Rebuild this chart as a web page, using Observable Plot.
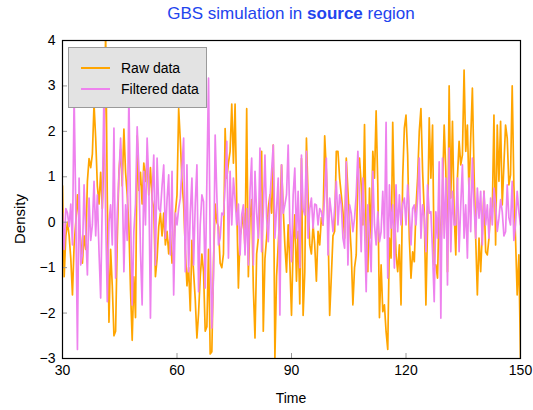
<!DOCTYPE html>
<html>
<head>
<meta charset="utf-8">
<script src="https://cdn.jsdelivr.net/npm/d3@7"></script>
<script src="https://cdn.jsdelivr.net/npm/@observablehq/plot@0.6"></script>
<style>
  html, body { margin: 0; padding: 0; background: #fff; }
  #wrap { position: relative; width: 533px; height: 410px; font-family: "Liberation Sans", Arial, Helvetica, sans-serif; }
  #title { position: absolute; left: 62px; top: 4px; width: 458px; text-align: center; font-size: 17px; line-height: 19px; color: #2244ee; white-space: nowrap; }
  #ylab { position: absolute; left: 19px; top: 219px; transform: translate(-50%, -50%) rotate(-90deg); font-size: 15px; white-space: nowrap; }
  #xlab { position: absolute; left: 291px; top: 398px; transform: translate(-50%, -50%); font-size: 14px; white-space: nowrap; }
  #legend { position: absolute; left: 68px; top: 47px; width: 137px; height: 59px; background: #e3e3e3; border: 1px solid #9a9a9a; }
  .lg-line { position: absolute; left: 12px; width: 29px; height: 2px; }
  .lg-text { position: absolute; left: 52px; font-size: 14px; line-height: 16px; white-space: nowrap; }
</style>
</head>
<body>
<div id="wrap">
  <div id="chart"></div>
  <div id="title">GBS simulation in <b>source</b> region</div>
  <div id="ylab">Density</div>
  <div id="xlab">Time</div>
  <div id="legend">
    <div class="lg-line" style="top:19px;background:orange"></div>
    <div class="lg-text" style="top:12px">Raw data</div>
    <div class="lg-line" style="top:40px;background:violet"></div>
    <div class="lg-text" style="top:33px">Filtered data</div>
  </div>
</div>
<script>
const timeStart = 30;
const timeEnd = 150;
const xTicks = [30, 60, 90, 120, 150];
const yTicks = [-3, -2, -1, 0, 1, 2, 3, 4];

const raw = [
  0.8,-1.2,-0.3,0.0,-0.3,-0.8,-1.6,-0.5,0.0,0.6, 0.0,-0.4,-0.9,-0.3,-0.6,0.9,1.4,1.2,1.5,2.6,
  1.85,0.8,0.4,1.1,0.3,1.5,4.2,0.5,-2.2,-0.6, -1.4,-2.5,-2.4,-0.4,1.1,1.6,0.8,2.05,1.1,0.6,
  -0.1,-1.5,-2.6,-1.2,-2.1,
  1.9,0.7,1.1,0.4,1.3,0.9,1.4,0.6,1.2,0.5, 0.3,-1.2,-0.8,-0.1,0.2,-0.3,0.2,-0.5,-0.2,-0.7,
  -0.2,-0.9,-0.6,0.2,0.6,2.5,1.8,0.9,0.4,-0.6, -1.4,-1.0,-1.95,-0.4,-1.1,-1.7,-2.55,-2.0,-1.2,-0.7,
  -1.1,-2.4,-2.3,-0.6,-2.9,
  -2.85,-0.9,0.4,0.0,-0.1,-0.9,-1.0,-0.7,2.06,0.97, 1.3,1.56,2.6,1.3,2.6,0.4,-1.45,-0.3,-0.1,0.2,
  -0.6,2.5,-1.2,0.1,0.5,-1.45,-2.55,-0.7,-0.35,0.5, 1.56,-2.4,-0.8,-0.35,0.3,0.6,0.2,1.7,-3.0,-1.2,
  -0.5,0.2,1.26,0.3,-0.5,
  -1.1,-0.06,-0.9,-2.05,-0.5,0.16,-1.3,-0.2,-1.8,1.4, -2.05,-1.1,1.85,0.53,-0.5,-0.7,-0.06,-0.5,-1.3,-0.2,
  -0.5,0.1,-0.06,1.9,1.12,-0.06,-2.05,-1.2,-0.3,-0.2, 1.56,1.56,0.97,0.6,0.23,-0.35,1.41,0.68,0.0,-0.65,
  -1.82,-1.0,-0.72,1.12,1.41,
  0.82,-0.06,2.15,-0.35,-1.09,0.75,-0.35,1.56,0.97,2.45, 0.82,-2.1,-0.94,-1.97,-1.82,-2.41,-2.8,-0.35,-0.79,2.2,
  0.38,-0.72,-1.09,-0.5,-1.82,0.97,2.07,2.36,1.48,-0.35, -1.23,-0.65,-0.87,0.3,0.97,2.0,2.5,1.12,0.23,-1.82,
  -0.06,2.3,0.97,2.14,-0.94,
  -0.94,-1.23,0.38,-0.65,0.68,2.14,1.12,-1.09,3.0,0.53, 2.22,0.23,-0.72,0.97,1.78,1.26,1.48,3.35,1.56,2.14,
  0.6,1.85,2.95,1.12,-0.35,-1.6,-0.35,-1.09,-0.21,0.68, -0.65,-0.72,-0.35,0.3,0.23,2.36,-0.5,2.14,0.9,2.22,
  0.38,1.26,2.14,1.85,0.82,1.04,3.0,0.82,-0.35,-1.6, -0.72,-3.0
];

const filtered = [
  0.2,-0.6,0.3,0.2,-0.1,0.4,-0.5,2.8,0.3,-2.8, 0.97,-0.94,-0.7,0.82,-0.2,-1.16,0.53,-0.4,-0.06,0.9,
  -0.3,0.6,-0.65,-1.67,0.5,2.9,0.1,-1.75,0.0,0.38, -0.5,2.07,-1.23,0.2,1.0,1.85,0.97,-1.09,0.38,-0.4,
  2.8,0.2,-1.82,-0.21,0.4,
  2.1,1.2,-0.65,-1.82,1.12,-0.06,1.85,0.9,-2.11,0.6, 1.48,-0.94,1.41,0.3,0.23,0.8,1.26,-0.35,0.5,1.04,
  -0.72,1.12,-1.6,0.2,-0.06,0.3,0.53,1.2,1.85,-1.09, 1.26,-1.09,0.2,0.97,-0.94,0.4,1.26,-1.53,-0.06,0.6,
  0.45,-1.45,0.9,3.17,-0.5,
  -2.33,-1.2,1.92,0.6,-0.5,-0.35,0.2,0.16,0.8,1.78, -0.79,1.12,-0.06,0.97,0.5,-0.06,0.4,-0.72,0.16,0.38,
  -0.72,0.3,-0.94,0.68,1.41,-0.94,1.12,0.2,-0.35,1.63, -0.65,0.2,1.48,0.1,-0.43,0.5,1.12,1.7,-0.35,0.3,
  0.97,-2.04,1.26,0.2,0.38,
  0.6,1.7,-0.06,-0.87,0.6,1.19,-0.35,0.68,-1.0,1.48, 0.3,0.16,1.56,-0.35,0.3,0.53,-0.13,0.4,0.38,-0.06,
  0.3,0.23,-0.06,0.6,1.41,-0.72,0.53,0.2,-0.21,0.3, 0.9,-0.06,0.6,0.38,-0.35,-0.57,1.33,-0.94,0.38,0.2,
  -0.21,0.09,0.6,1.56,0.5,
  -0.65,0.97,-0.06,-1.53,0.38,-0.35,-1.09,1.12,-0.06,-0.5, 0.23,-0.43,-0.21,0.68,-0.35,2.2,-1.23,0.82,-0.13,0.38,
  -1.01,0.82,-0.21,0.6,-0.06,0.4,0.53,-0.06,0.82,0.2, -0.5,0.3,0.38,-0.06,0.53,1.41,-0.35,0.38,0.1,-0.65,
  0.82,0.2,0.23,-0.65,-1.75,
  0.23,-0.35,1.33,-2.11,1.41,-0.35,0.97,-1.38,1.63,-0.65, 0.68,-0.06,-0.06,0.97,-0.65,0.38,1.26,-0.35,0.38,-0.79,
  0.97,-0.21,1.41,0.38,-0.35,0.75,0.09,0.68,-0.5,0.68, -0.06,0.38,-0.35,0.53,-0.06,0.75,0.38,-0.2,0.09,0.5,
  0.23,-0.3,-0.21,0.82,0.1,-0.06,0.9,-0.4,-0.06,0.68, 0.23,-0.06
];

function toRows(values) {
  const n = values.length;
  return values.map((v, i) => ({ t: timeStart + i * (timeEnd - timeStart) / (n - 1), v }));
}

const chart = Plot.plot({
  width: 533,
  height: 410,
  marginLeft: 62,
  marginRight: 13,
  marginTop: 40,
  marginBottom: 52,
  style: { fontFamily: '"Liberation Sans", Arial, Helvetica, sans-serif', fontSize: "14px", color: "#000", background: "transparent" },
  x: { domain: [timeStart, timeEnd] },
  y: { domain: [-3, 4] },
  marks: [
    Plot.axisX(xTicks, { tickSize: 0, tickPadding: 7, label: null, fontSize: 14 }),
    Plot.axisY(yTicks, { tickSize: 0, tickPadding: 7, label: null, fontSize: 14 }),
    Plot.lineY(toRows(raw), { x: "t", y: "v", stroke: "orange", strokeWidth: 1.7, clip: true }),
    Plot.lineY(toRows(filtered), { x: "t", y: "v", stroke: "violet", strokeWidth: 1.7, clip: true }),
    Plot.tickY(yTicks, { y: d => d, insetRight: 453, stroke: "#999" }),
    Plot.tickX(xTicks, { x: d => d, insetTop: 313, stroke: "#999" }),
    Plot.frame({ stroke: "#000", strokeWidth: 1.2 })
  ]
});
document.getElementById("chart").appendChild(chart);
</script>
</body>
</html>
